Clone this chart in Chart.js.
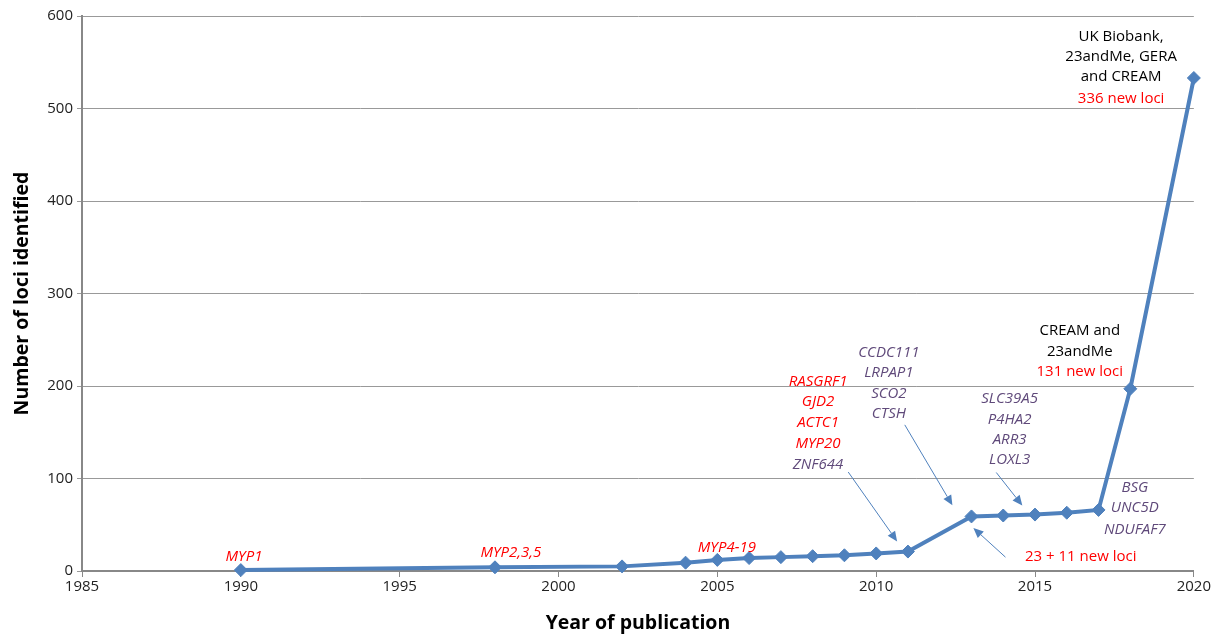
<!DOCTYPE html>
<html><head><meta charset="utf-8">
<script src="https://cdn.jsdelivr.net/npm/chart.js@4/dist/chart.umd.min.js"></script>
<style>html,body{margin:0;padding:0;background:#fff}#wrap{width:1212px;height:635px}</style>
</head><body><div id="wrap"><canvas id="c" width="1212" height="635"></canvas></div>
<script>
const years = [1990, 1998, 2002, 2004, 2005, 2006, 2007, 2008, 2009, 2010, 2011, 2013, 2014, 2015, 2016, 2017, 2018, 2020];
const loci  = [1, 4, 5, 9, 12, 14, 15, 16, 17, 19, 21, 59, 60, 61, 63, 66, 197, 533];
const xTicks = [1985, 1990, 1995, 2000, 2005, 2010, 2015, 2020];
const yTicks = [0, 100, 200, 300, 400, 500, 600];

const RED = '#ff0000', PURPLE = '#5f497a', BLACK = '#000000', BLUE = '#4f81bd';
// annotations: [text, x(year), y(loci), color, italic]
const labels = [
  ['MYP1', 1990.1, 15, RED, true],
  ['MYP2,3,5', 1998.5, 20, RED, true],
  ['MYP4-19', 2005.3, 25, RED, true],
  ['RASGRF1', 2008.17, 205, RED, true],
  ['GJD2', 2008.17, 182.5, RED, true],
  ['ACTC1', 2008.17, 160, RED, true],
  ['MYP20', 2008.17, 137.5, RED, true],
  ['ZNF644', 2008.17, 115, PURPLE, true],
  ['CCDC111', 2010.4, 236, PURPLE, true],
  ['LRPAP1', 2010.4, 214, PURPLE, true],
  ['SCO2', 2010.4, 191.5, PURPLE, true],
  ['CTSH', 2010.4, 169.5, PURPLE, true],
  ['SLC39A5', 2014.2, 186.5, PURPLE, true],
  ['P4HA2', 2014.2, 164, PURPLE, true],
  ['ARR3', 2014.2, 141.5, PURPLE, true],
  ['LOXL3', 2014.2, 120, PURPLE, true],
  ['BSG', 2018.14, 90.5, PURPLE, true],
  ['UNC5D', 2018.14, 68, PURPLE, true],
  ['NDUFAF7', 2018.14, 45, PURPLE, true],
  ['23 + 11 new loci', 2016.44, 15, RED, false],
  ['CREAM and', 2016.41, 260, BLACK, false],
  ['23andMe', 2016.41, 237, BLACK, false],
  ['131 new loci', 2016.41, 215, RED, false],
  ['UK Biobank,', 2017.71, 578, BLACK, false],
  ['23andMe, GERA', 2017.71, 556, BLACK, false],
  ['and CREAM', 2017.71, 534, BLACK, false],
  ['336 new loci', 2017.71, 511, RED, false]
];
// arrows: [x1,y1,x2,y2] in data coords, head at (x2,y2)
const arrows = [
  [2009.12, 107, 2010.66, 32],
  [2010.9, 158, 2012.4, 71],
  [2013.78, 106.5, 2014.6, 70.8],
  [2014.07, 15, 2013.06, 46.5]
];

const annot = {
  id: 'annot',
  afterDatasetsDraw(chart) {
    const ctx = chart.ctx, xs = chart.scales.x, ys = chart.scales.y;
    ctx.save();
    ctx.textAlign = 'center'; ctx.textBaseline = 'middle';
    labels.forEach(([t, x, y, c, it]) => {
      ctx.font = (it ? 'italic ' : '') + '15px "Open Sans"';
      ctx.fillStyle = c;
      ctx.fillText(t, xs.getPixelForValue(x), ys.getPixelForValue(y));
    });
    ctx.strokeStyle = BLUE; ctx.fillStyle = BLUE; ctx.lineWidth = 1;
    arrows.forEach(([a, b, c, d]) => {
      const x1 = xs.getPixelForValue(a), y1 = ys.getPixelForValue(b);
      const x2 = xs.getPixelForValue(c), y2 = ys.getPixelForValue(d);
      const ang = Math.atan2(y2 - y1, x2 - x1), L = 10, W = 4.5;
      const bx = x2 - L * Math.cos(ang), by = y2 - L * Math.sin(ang);
      ctx.beginPath(); ctx.moveTo(x1, y1); ctx.lineTo(bx, by); ctx.stroke();
      ctx.beginPath(); ctx.moveTo(x2, y2);
      ctx.lineTo(bx + W * Math.sin(ang), by - W * Math.cos(ang));
      ctx.lineTo(bx - W * Math.sin(ang), by + W * Math.cos(ang));
      ctx.closePath(); ctx.fill();
    });
    ctx.restore();
  }
};

new Chart(document.getElementById('c'), {
  type: 'line',
  data: { datasets: [{
    data: years.map((y, i) => ({ x: y, y: loci[i] })),
    borderColor: BLUE, backgroundColor: BLUE, borderWidth: 4,
    pointStyle: 'rectRot', pointRadius: 6.5, pointHoverRadius: 6.5,
    pointBorderWidth: 1, pointBorderColor: BLUE, tension: 0, clip: false
  }]},
  options: {
    responsive: false, animation: false, devicePixelRatio: 1,
    layout: { padding: { top: 16, right: 16, left: 11, bottom: 0 } },
    plugins: { legend: { display: false }, tooltip: { enabled: false } },
    scales: {
      x: {
        type: 'linear', min: 1985, max: 2020,
        afterBuildTicks: s => { s.ticks = xTicks.map(v => ({ value: v })); },
        grid: { drawOnChartArea: false, drawTicks: true, tickLength: 6, color: '#888' },
        border: { display: true, color: '#888', width: 2 },
        ticks: { color: '#222', font: { family: 'Open Sans', size: 15 }, padding: 1, maxRotation: 0, callback: v => String(v) },
        title: { display: true, text: 'Year of publication', color: '#000', font: { family: 'Open Sans', size: 19.5, weight: 'bold' }, padding: { top: 2, bottom: 0 } },
        afterFit: s => { s.height = 64; }
      },
      y: {
        min: 0, max: 600,
        afterBuildTicks: s => { s.ticks = yTicks.map(v => ({ value: v })); },
        grid: { color: '#999', lineWidth: 1, drawTicks: true, tickLength: 5 },
        border: { display: true, color: '#888', width: 2 },
        ticks: { color: '#222', font: { family: 'Open Sans', size: 15 }, padding: 4 },
        title: { display: true, text: 'Number of loci identified', color: '#000', font: { family: 'Open Sans', size: 19.5, weight: 'bold' }, padding: { top: 0, bottom: 6 } },
        afterFit: s => { s.width = 71; }
      }
    }
  },
  plugins: [annot]
});
</script></body></html>
